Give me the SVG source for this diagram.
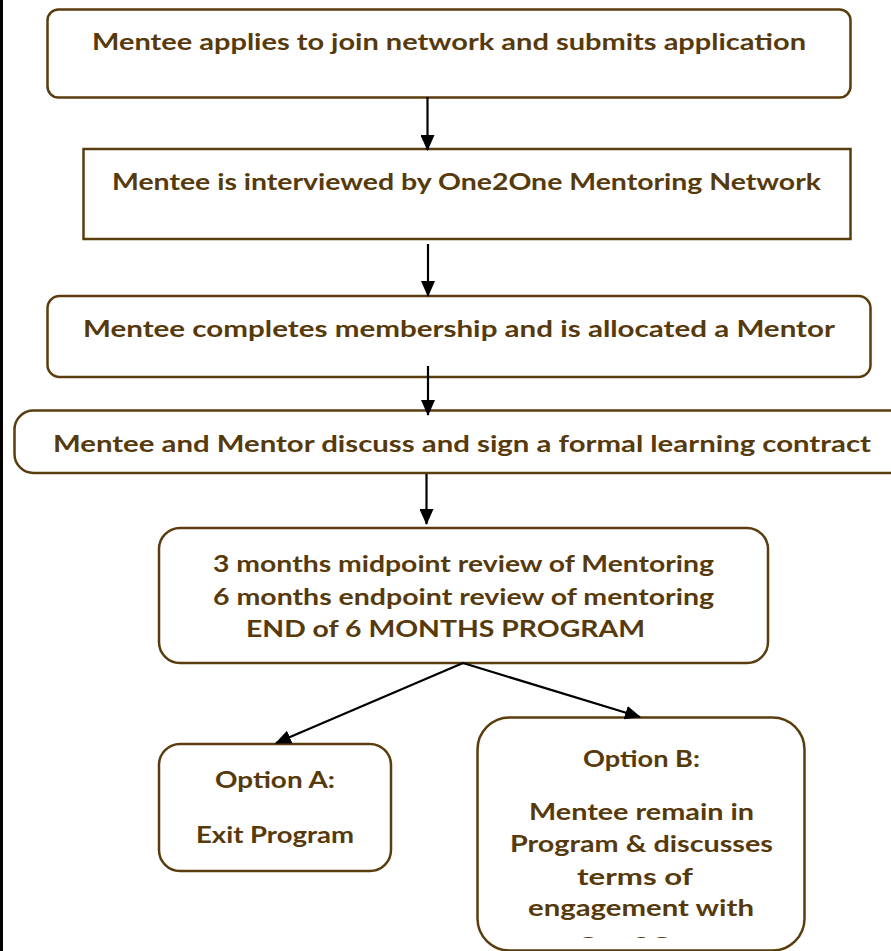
<svg xmlns="http://www.w3.org/2000/svg" width="891" height="951" viewBox="0 0 891 951">
  <style>
    .box { fill: #ffffff; stroke: #5a3d0e; stroke-width: 2.5; }
    .t { font-family: Lato, "Liberation Sans", sans-serif; font-weight: bold; font-size: 23px; fill: #573a0b; text-anchor: middle; }
    .c { stroke: #000000; stroke-width: 2.2; fill: none; marker-end: url(#ah); }
  </style>
  <defs>
    <marker id="ah" markerUnits="userSpaceOnUse" markerWidth="16" markerHeight="14" refX="15" refY="7" orient="auto">
      <path d="M0,0 L16,7 L0,14 z" fill="#000000"/>
    </marker>
    <clipPath id="clipB">
      <rect x="478" y="718" width="326" height="220"/>
    </clipPath>
  </defs>
  <rect x="0" y="0" width="891" height="951" fill="#ffffff"/>
  <rect x="0" y="0" width="3" height="951" fill="#000000"/>

  <g id="n1">
    <rect class="box" x="47.5" y="9.5" width="803" height="88" rx="11"/>
    <text class="t" x="449" y="50" textLength="714" lengthAdjust="spacingAndGlyphs">Mentee applies to join network and submits application</text>
  </g>
  <g id="n2">
    <rect class="box" x="83.5" y="149" width="767" height="90"/>
    <text class="t" x="466.5" y="190" textLength="709" lengthAdjust="spacingAndGlyphs">Mentee is interviewed by One2One Mentoring Network</text>
  </g>
  <g id="n3">
    <rect class="box" x="47.5" y="296" width="823" height="81" rx="12"/>
    <text class="t" x="459" y="337" textLength="752" lengthAdjust="spacingAndGlyphs">Mentee completes membership and is allocated a Mentor</text>
  </g>
  <g id="n4">
    <rect class="box" x="14.5" y="410.5" width="900" height="62.5" rx="19"/>
    <text class="t" x="462" y="452" textLength="818" lengthAdjust="spacingAndGlyphs">Mentee and Mentor discuss and sign a formal learning contract</text>
  </g>
  <g id="n5">
    <rect class="box" x="159" y="528" width="609" height="135" rx="21"/>
    <text class="t" x="463.5" y="572" textLength="501" lengthAdjust="spacingAndGlyphs">3 months midpoint review of Mentoring</text>
    <text class="t" x="463.5" y="605" textLength="501" lengthAdjust="spacingAndGlyphs">6 months endpoint review of mentoring</text>
    <text class="t" x="445.5" y="637" textLength="399" lengthAdjust="spacingAndGlyphs">END of 6 MONTHS PROGRAM</text>
  </g>
  <g id="nA">
    <rect class="box" x="159" y="744" width="232" height="127" rx="21"/>
    <text class="t" x="275" y="788" textLength="120" lengthAdjust="spacingAndGlyphs">Option A:</text>
    <text class="t" x="275" y="843" textLength="158" lengthAdjust="spacingAndGlyphs">Exit Program</text>
  </g>
  <g id="nB">
    <rect class="box" x="477.5" y="717.5" width="327" height="233" rx="32"/>
    <g clip-path="url(#clipB)">
      <text class="t" x="641.5" y="767" textLength="117" lengthAdjust="spacingAndGlyphs">Option B:</text>
      <text class="t" x="641.5" y="820" textLength="225" lengthAdjust="spacingAndGlyphs">Mentee remain in</text>
      <text class="t" x="641.5" y="852" textLength="263" lengthAdjust="spacingAndGlyphs">Program &amp; discusses</text>
      <text class="t" x="635" y="885" textLength="116" lengthAdjust="spacingAndGlyphs">terms of</text>
      <text class="t" x="641" y="916" textLength="226" lengthAdjust="spacingAndGlyphs">engagement with</text>
      <text class="t" x="641" y="954" textLength="130" lengthAdjust="spacingAndGlyphs">One2One</text>
    </g>
  </g>

  <g id="connectors">
    <line class="c" x1="427.5" y1="97" x2="427.5" y2="150"/>
    <line class="c" x1="428" y1="244" x2="428" y2="296"/>
    <line class="c" x1="428" y1="366" x2="428" y2="415"/>
    <line class="c" x1="426.5" y1="474" x2="426.5" y2="524"/>
    <line class="c" x1="463" y1="663" x2="276" y2="743"/>
    <line class="c" x1="463" y1="663" x2="640" y2="717"/>
  </g>
</svg>
